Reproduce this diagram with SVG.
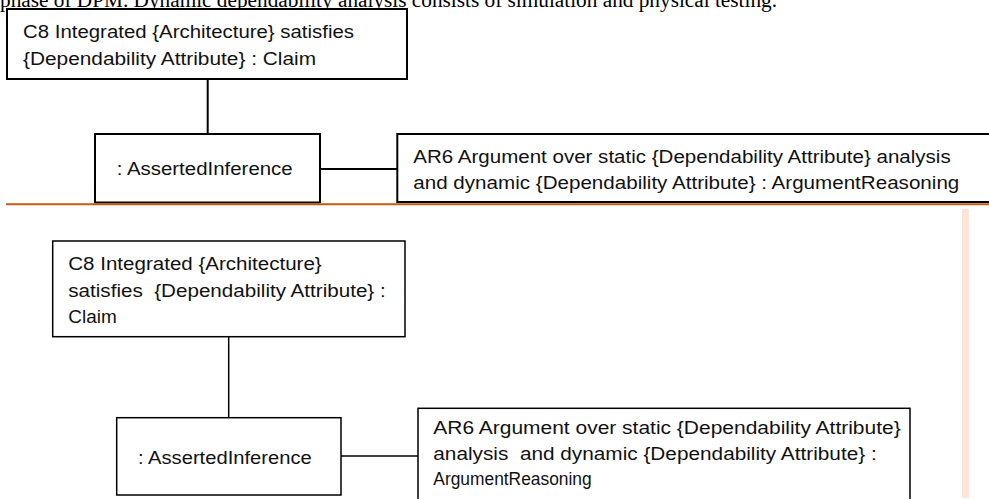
<svg xmlns="http://www.w3.org/2000/svg" width="989" height="499" viewBox="0 0 989 499">
<style>
.box{fill:#fff;stroke:#000;}
.t{font-family:"Liberation Sans",Arial,sans-serif;font-size:17.5px;fill:#111;}
.hd{font-family:"Liberation Serif","Times New Roman",serif;font-size:20px;fill:#000;}
.ln{stroke:#000;fill:none;}
</style>
<rect width="989" height="499" fill="#fff"/>
<text class="hd" x="0" y="7" textLength="777" lengthAdjust="spacingAndGlyphs">phase of DPM. Dynamic dependability analysis consists of simulation and physical testing.</text>

<g id="connectors">
  <line class="ln" x1="207.7" y1="79" x2="207.7" y2="134" stroke-width="2"/>
  <line class="ln" x1="320" y1="169" x2="397" y2="169" stroke-width="2"/>
  <line class="ln" x1="228.7" y1="337" x2="228.7" y2="418" stroke-width="1.5"/>
  <line class="ln" x1="341" y1="456" x2="418" y2="456" stroke-width="1.5"/>
</g>

<g id="top-claim">
  <rect class="box" x="7" y="9" width="400" height="70" stroke-width="2"/>
  <text class="t" x="23" y="37.7" textLength="331" lengthAdjust="spacingAndGlyphs">C8 Integrated {Architecture} satisfies</text>
  <text class="t" x="23" y="65" textLength="293" lengthAdjust="spacingAndGlyphs">{Dependability Attribute} : Claim</text>
</g>
<g id="top-inference">
  <rect class="box" x="95" y="134" width="225" height="68.5" stroke-width="2"/>
  <text class="t" x="116.7" y="175" textLength="176" lengthAdjust="spacingAndGlyphs">: AssertedInference</text>
</g>
<g id="top-reasoning">
  <rect class="box" x="397.3" y="134" width="600" height="68" stroke-width="2"/>
  <text class="t" x="413.3" y="163" textLength="537.4" lengthAdjust="spacingAndGlyphs">AR6 Argument over static {Dependability Attribute} analysis</text>
  <text class="t" x="413.3" y="189" textLength="546" lengthAdjust="spacingAndGlyphs">and dynamic {Dependability Attribute} : ArgumentReasoning</text>
</g>

<line x1="6" y1="204.3" x2="989" y2="204.3" stroke="#C55A11" stroke-width="2"/>
<rect x="962" y="209" width="7" height="289" fill="#FCE4D6"/>

<g id="bottom-claim">
  <rect class="box" x="52.7" y="241" width="352.3" height="95.7" stroke-width="1.5"/>
  <text class="t" x="68.3" y="270" textLength="253.4" lengthAdjust="spacingAndGlyphs">C8 Integrated {Architecture}</text>
  <text class="t" x="68.3" y="296.7" textLength="317.4" lengthAdjust="spacingAndGlyphs">satisfies &#160;{Dependability Attribute} :</text>
  <text class="t" x="68.3" y="323" textLength="48.4" lengthAdjust="spacingAndGlyphs">Claim</text>
</g>
<g id="bottom-inference">
  <rect class="box" x="116.7" y="417.7" width="224.3" height="77.3" stroke-width="1.5"/>
  <text class="t" x="138" y="464" textLength="173.7" lengthAdjust="spacingAndGlyphs">: AssertedInference</text>
</g>
<g id="bottom-reasoning">
  <rect class="box" x="418" y="408.3" width="492" height="100" stroke-width="1.5"/>
  <text class="t" x="433.3" y="434.3" textLength="467.4" lengthAdjust="spacingAndGlyphs">AR6 Argument over static {Dependability Attribute}</text>
  <text class="t" x="433.3" y="459.5" textLength="443.4" lengthAdjust="spacingAndGlyphs">analysis &#160;and dynamic {Dependability Attribute} :</text>
  <text class="t" x="433.3" y="485" textLength="158.4" lengthAdjust="spacingAndGlyphs">ArgumentReasoning</text>
</g>
</svg>
